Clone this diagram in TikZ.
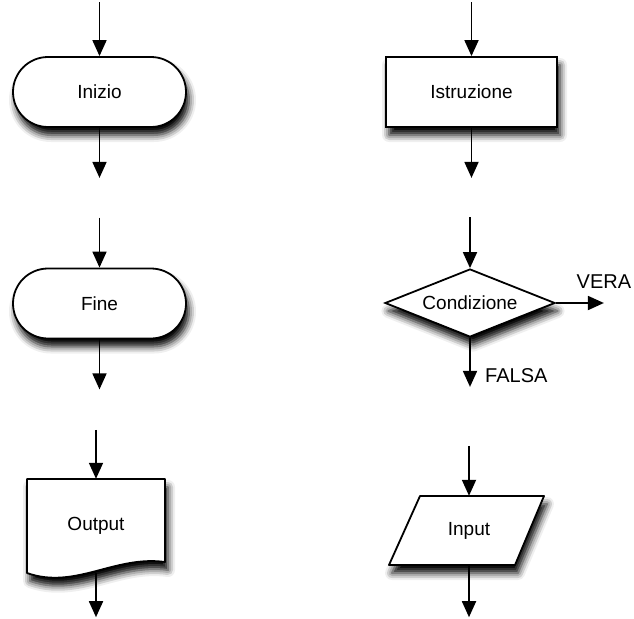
\documentclass[tikz,border=0pt]{standalone}
\usepackage{fontspec}
\setmainfont{Liberation Sans}
\usetikzlibrary{positioning}
\usetikzlibrary{arrows.meta}
\usetikzlibrary{shapes.geometric}
\usetikzlibrary{shadows.blur}
\tikzset{flowshadow/.style={blur shadow={shadow xshift=3pt,shadow yshift=-8pt,
shadow blur radius=7pt,shadow opacity=100}}}
\tikzset{terminal/.style={rectangle,rounded corners=35pt,draw=black,fill=white,flowshadow,
line width=1.8pt,inner sep=0pt,minimum height=70pt,minimum width=173pt,font=\fontsize{19}{21}\selectfont}}
\tikzset{process/.style={rectangle,draw=black,fill=white,flowshadow,
line width=1.8pt,inner sep=0pt,minimum height=70pt,minimum width=171pt,font=\fontsize{19}{21}\selectfont}}
\tikzset{decision/.style={diamond,aspect=2.5,draw=black,fill=white,flowshadow,
line width=1.8pt,inner sep=0pt,minimum height=68pt,minimum width=170pt,font=\fontsize{19}{21}\selectfont}}
\tikzset{textbox/.style={rectangle,draw=none,inner sep=0pt,minimum width=100pt,
font=\fontsize{19}{21}\selectfont}}
\tikzset{outline/.style={draw=black,fill=white,flowshadow,line width=1.8pt,line join=round}}
\tikzset{branchlabel/.style={inner sep=0pt,font=\fontsize{20}{22}\selectfont}}
\tikzset{flowarrow/.style={draw=black,line width=1.8pt,draw opacity=1,fill opacity=1,
-{Triangle[length=16pt,width=14pt,fill=black]}}}

\begin{document}
\begin{tikzpicture}[x=1pt,y=-1pt]
    \useasboundingbox (0,0) rectangle (634,618);

    % left column
    \node[terminal] (inizio) at (99.5,92) {Inizio};
    \node[terminal] (fine) at (99.5,303.5) {Fine};
    \draw[outline] (27,479) -- (165,479) -- (165,562)
        .. controls (115,555) and (75,590) .. (27,573) -- cycle;
    \node[textbox,minimum height=94pt] (output) at (96,526) {Output};

    % right column
    \node[process] (istruzione) at (471.5,92) {Istruzione};
    \node[decision] (condizione) at (470,303) {Condizione};
    \draw[outline] (420,496) -- (544,496) -- (515,565) -- (389,565) -- cycle;
    \node[textbox,minimum height=69pt] (input) at (469,530.5) {Input};

    \coordinate[above=54pt of inizio] (inizioin);
    \coordinate[below=50pt of inizio] (inizioout);
    \draw[flowarrow] (inizioin) -- (inizio);
    \draw[flowarrow] (inizio) -- (inizioout);

    \coordinate[above=50pt of fine] (finein);
    \coordinate[below=50pt of fine] (fineout);
    \draw[flowarrow] (finein) -- (fine);
    \draw[flowarrow] (fine) -- (fineout);

    \coordinate[above=49pt of output] (outputin);
    \coordinate[below=44pt of output] (outputout);
    \draw[flowarrow] (outputin) -- (output);
    \draw[flowarrow] (output) -- (outputout);

    \coordinate[above=54pt of istruzione] (istruzionein);
    \coordinate[below=50pt of istruzione] (istruzioneout);
    \draw[flowarrow] (istruzionein) -- (istruzione);
    \draw[flowarrow] (istruzione) -- (istruzioneout);

    \coordinate[above=51pt of condizione] (condizionein);
    \coordinate[right=48pt of condizione] (veraend);
    \coordinate[below=49pt of condizione] (falsaend);
    \draw[flowarrow] (condizionein) -- (condizione);
    \draw[flowarrow] (condizione) -- (veraend);
    \draw[flowarrow] (condizione) -- (falsaend);
    \node[branchlabel] (vera) [above=14pt of veraend] {VERA};
    \node[branchlabel] (falsa) [above right=4pt and 15pt of falsaend] {FALSA};

    \coordinate[above=50pt of input] (inputin);
    \coordinate[below=52pt of input] (inputout);
    \draw[flowarrow] (inputin) -- (input);
    \draw[flowarrow] (input) -- (inputout);

\end{tikzpicture}
\end{document}
